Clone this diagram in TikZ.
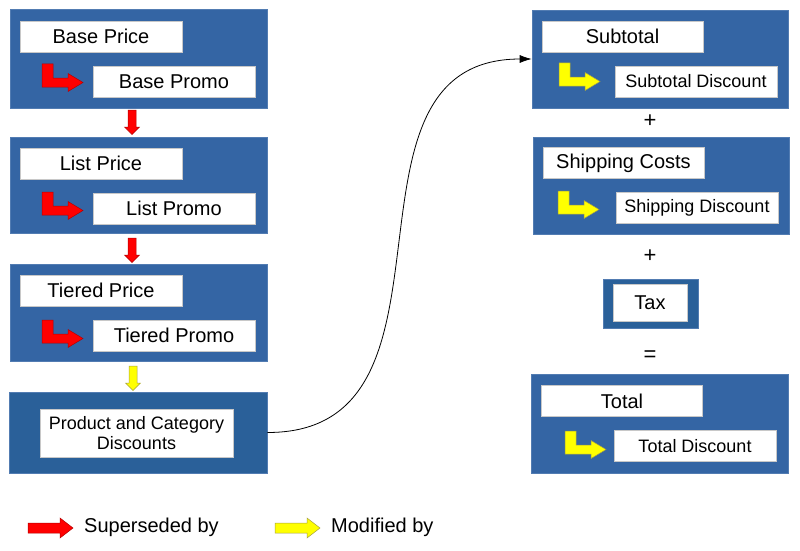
\documentclass[tikz,border=0pt]{standalone}
\usepackage{fontspec}
\setmainfont{Liberation Sans}
\usetikzlibrary{arrows.meta}
\definecolor{boxblue}{HTML}{3465A4}
\definecolor{darkblue}{HTML}{2A6099}
\definecolor{boxline}{HTML}{C8C8C8}
\definecolor{redfill}{HTML}{FF0000}
\definecolor{yellowfill}{HTML}{FFFF00}
\begin{document}
\begin{tikzpicture}[x=1pt,y=-1pt,
  group/.style={fill=boxblue,draw=boxblue!85!white,line width=0.6pt,inner sep=0pt},
  namebox/.style={fill=white,draw=boxline,line width=0.5pt,inner sep=0pt,
    minimum width=162pt,minimum height=31pt,font=\fontsize{20}{24}\selectfont},
  discbox/.style={namebox,font=\fontsize{18}{20}\selectfont},
  sign/.style={font=\fontsize{22}{24}\selectfont,inner sep=0pt},
  legendtext/.style={anchor=west,inner sep=2pt,font=\fontsize{20}{24}\selectfont},
  superseded/.style={fill=redfill,draw=red!70!black,line width=0.5pt},
  modified/.style={fill=yellowfill,draw=yellow!60!black,line width=0.5pt},
  lturn/.pic={\filldraw (0,0) -- (11,0) -- (11,14) -- (26,14) -- (26,9.5)
    -- (41,18.5) -- (26,27.5) -- (26,23) -- (0,23) -- cycle;},
  downblock/.pic={\filldraw (-4,0) -- (4,0) -- (4,17) -- (7.5,17) -- (0,24.5)
    -- (-7.5,17) -- (-4,17) -- cycle;},
  rightblock/.pic={\filldraw (0,-5) -- (32,-5) -- (32,-10) -- (45,0) -- (32,10)
    -- (32,5) -- (0,5) -- cycle;}]
\useasboundingbox (0,0) rectangle (800,551);
% left column
\node[group,minimum width=257pt,minimum height=99pt] (basegrp) at (138.5,58.5) {};
\node[namebox] (baseprice) at (101,36.5) {Base Price};
\node[namebox] (basepromo) at (174,81.5) {Base Promo};
\pic[superseded] at (42,64) {lturn};
\pic[superseded] at (132,110) {downblock};
\node[group,minimum width=257pt,minimum height=96pt] (listgrp) at (138.5,185) {};
\node[namebox] (listprice) at (101,163.5) {List Price};
\node[namebox] (listpromo) at (174,208.5) {List Promo};
\pic[superseded] at (42,192) {lturn};
\pic[superseded] at (132,238) {downblock};
\node[group,minimum width=257pt,minimum height=97pt] (tiergrp) at (138.5,312.5) {};
\node[namebox] (tierprice) at (101,290.5) {Tiered Price};
\node[namebox] (tierpromo) at (174,335.5) {Tiered Promo};
\pic[superseded] at (42,320) {lturn};
\pic[modified] at (133,366) {downblock};
\node[group,fill=darkblue,minimum width=258pt,minimum height=81pt] (prodgrp) at (138,432.5) {};
\node[discbox,minimum width=193pt,minimum height=48pt,align=center] (proddisc) at (136.5,433)
  {Product and Category\\Discounts};
% right column
\node[group,minimum width=256pt,minimum height=98pt] (subgrp) at (660,59) {};
\node[namebox,minimum width=161pt] (subtotal) at (622.5,36.5) {Subtotal};
\node[discbox] (subdisc) at (696,81.5) {Subtotal Discount};
\pic[modified] at (559,63) {lturn};
\node[sign] (plusa) at (650,121) {+};
\node[group,minimum width=256pt,minimum height=97pt] (shipgrp) at (661,185.5) {};
\node[namebox,minimum width=161pt] (shipcost) at (623.5,163) {Shipping Costs};
\node[discbox] (shipdisc) at (697,208) {Shipping Discount};
\pic[modified] at (558,191) {lturn};
\node[sign] (plusb) at (650,256) {+};
\node[group,fill=darkblue,minimum width=95pt,minimum height=49pt] (taxgrp) at (650.5,303.5) {};
\node[namebox,minimum width=74pt,minimum height=37pt] (tax) at (650,302.5) {Tax};
\node[sign] (equals) at (650,356) {=};
\node[group,minimum width=257pt,minimum height=99pt] (totgrp) at (659.5,423.5) {};
\node[namebox,minimum width=161pt] (total) at (622,401) {Total};
\node[discbox] (totdisc) at (695,446) {Total Discount};
\pic[modified] at (565,431) {lturn};
% curve
\draw[line width=0.8pt,-{Latex[length=12pt,width=8pt]}] (prodgrp.east)
  .. controls (480,433) and (320,59) .. (subgrp.west);
% legend
\pic[superseded] at (28,528) {rightblock};
\node[legendtext] (supersededby) at (82,527) {Superseded by};
\pic[modified] at (275,528) {rightblock};
\node[legendtext] (modifiedby) at (329,527) {Modified by};
\end{tikzpicture}
\end{document}
